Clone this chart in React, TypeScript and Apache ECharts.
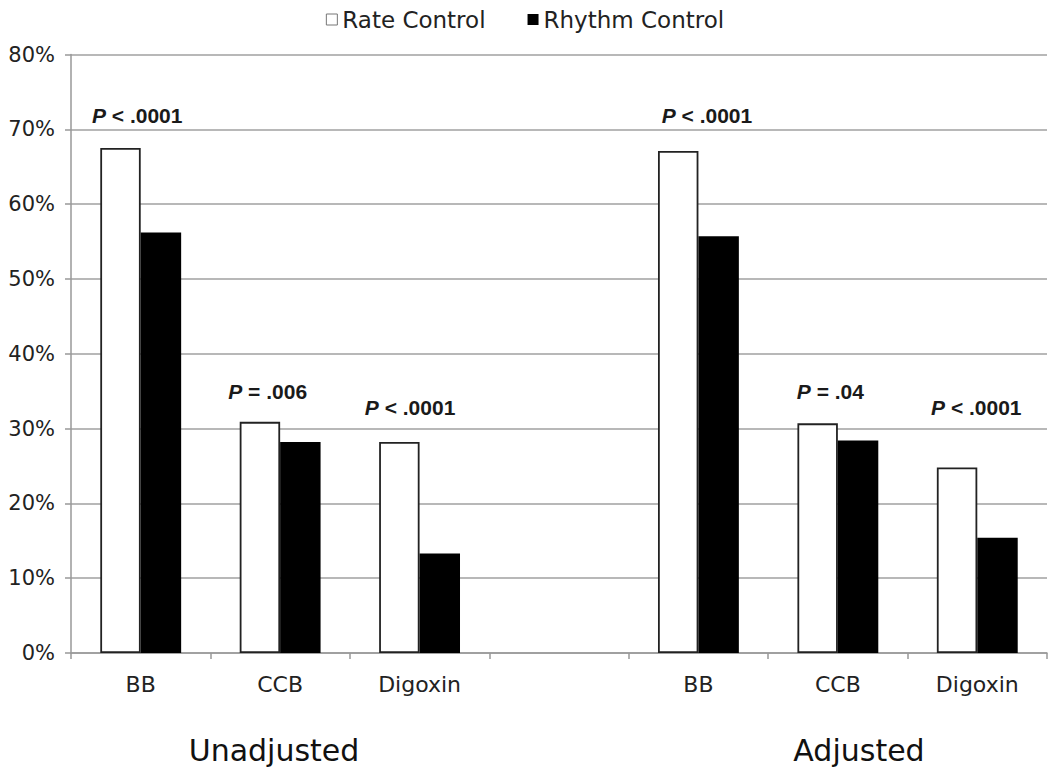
import React, { useEffect, useRef } from "react";
import * as echarts from "echarts";

const categories = ["BB", "CCB", "Digoxin", "", "BB", "CCB", "Digoxin"];
const rateControl: (number | null)[] = [67.5, 30.9, 28.2, null, 67.1, 30.7, 24.8];
const rhythmControl: (number | null)[] = [56.2, 28.2, 13.3, null, 55.7, 28.4, 15.4];
const pComparison = ["< .0001", "= .006", "< .0001", "", "< .0001", "= .04", "< .0001"];
const pLabelLevel: (number | null)[] = [71.8, 34.9, 32.8, null, 71.8, 34.9, 32.8];
const groupTitles = ["Unadjusted", "Adjusted"];
const yMax = 80;
const yStep = 10;

// small horizontal nudges (px) of the P-value labels relative to category centres
const labelShiftX = [-3.5, -12.5, -9.5, 0, 8.5, -7.5, -1];

const MAIN_FONT = "DejaVu Sans";
const P_FONT = "Liberation Sans";

export default function App() {
  const ref = useRef<HTMLDivElement>(null);

  useEffect(() => {
    if (!ref.current) return;
    const chart = echarts.init(ref.current, undefined, { renderer: "svg" });

    const labelData = pLabelLevel
      .map((v, i) => (v == null ? null : [i, v]))
      .filter((d) => d !== null) as number[][];

    chart.setOption({
      animation: false,
      backgroundColor: "#ffffff",
      legend: {
        data: [
          { name: "Rate Control", itemStyle: { color: "#ffffff", borderColor: "#777", borderWidth: 1 } },
          { name: "Rhythm Control", itemStyle: { color: "#000000" } },
        ],
        top: 3,
        left: "center",
        icon: "rect",
        itemWidth: 11,
        itemHeight: 11,
        itemGap: 42,
        textStyle: { fontFamily: MAIN_FONT, fontSize: 23, color: "#222" },
      },
      grid: { left: 71, right: 3, top: 54.5, bottom: 114, containLabel: false },
      xAxis: {
        type: "category",
        data: categories,
        axisLine: { show: true, lineStyle: { color: "#999", width: 1.5 } },
        axisTick: { show: true, length: 6, lineStyle: { color: "#999", width: 1.5 } },
        axisLabel: { fontFamily: MAIN_FONT, fontSize: 22, color: "#222", margin: 20 },
        splitLine: { show: false },
      },
      yAxis: {
        type: "value",
        min: 0,
        max: yMax,
        interval: yStep,
        axisLine: { show: true, lineStyle: { color: "#999", width: 1.5 } },
        axisTick: { show: true, length: 6, lineStyle: { color: "#999", width: 1.5 } },
        axisLabel: {
          fontFamily: MAIN_FONT,
          fontSize: 21,
          color: "#222",
          margin: 16,
          formatter: "{value}%",
        },
        splitLine: { show: true, lineStyle: { color: "#a0a0a0", width: 1.5 } },
      },
      series: [
        {
          name: "Rate Control",
          type: "bar",
          data: rateControl,
          barGap: "0%",
          barCategoryGap: "42%",
          itemStyle: { color: "#ffffff", borderColor: "#222", borderWidth: 1.8 },
        },
        {
          name: "Rhythm Control",
          type: "bar",
          data: rhythmControl,
          itemStyle: { color: "#000000" },
        },
        {
          name: "pvalues",
          type: "custom",
          silent: true,
          z: 10,
          data: labelData,
          renderItem: (params: any, api: any) => {
            const i = api.value(0);
            const pt = api.coord([i, api.value(1)]);
            return {
              type: "text",
              x: pt[0] + labelShiftX[i],
              y: pt[1],
              style: {
                text: `{p|P}{r|\u00a0${pComparison[i]}}`,
                align: "center",
                verticalAlign: "middle",
                rich: {
                  p: {
                    fontFamily: P_FONT,
                    fontSize: 21,
                    fontWeight: "bold",
                    fontStyle: "italic",
                    fill: "#1a1a1a",
                  },
                  r: {
                    fontFamily: P_FONT,
                    fontSize: 21,
                    fontWeight: "bold",
                    fill: "#1a1a1a",
                  },
                },
              },
            };
          },
        },
      ],
      graphic: [
        {
          type: "text",
          x: 274,
          y: 750,
          style: {
            text: groupTitles[0],
            fontFamily: MAIN_FONT,
            fontSize: 30,
            fill: "#111",
            align: "center",
            verticalAlign: "middle",
          },
        },
        {
          type: "text",
          x: 859,
          y: 750,
          style: {
            text: groupTitles[1],
            fontFamily: MAIN_FONT,
            fontSize: 30,
            fill: "#111",
            align: "center",
            verticalAlign: "middle",
          },
        },
      ],
    });

    return () => chart.dispose();
  }, []);

  return (
    <div
      ref={ref}
      style={{ position: "fixed", left: 0, top: 0, width: 1050, height: 767, background: "#fff" }}
    />
  );
}
